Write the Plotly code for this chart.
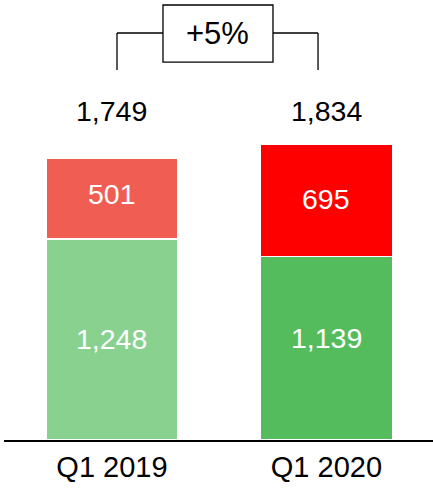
import plotly.graph_objects as go

categories = ["Q1 2019", "Q1 2020"]
green_values = [1248, 1139]
red_values = [501, 695]
totals = [1749, 1834]
green_colors = ["#88D18F", "#55BC5E"]
red_colors = ["#EF5D53", "#FF0000"]
growth_label = "+5%"

FONT = "Arial, Liberation Sans, sans-serif"

fig = go.Figure()
fig.add_trace(go.Bar(
    x=categories, y=green_values,
    marker=dict(color=green_colors, line=dict(color="white", width=1.5)),
    width=0.616, hoverinfo="skip",
))
fig.add_trace(go.Bar(
    x=categories, y=red_values,
    marker=dict(color=red_colors, line=dict(color="white", width=1.5)),
    width=0.616, hoverinfo="skip",
))

# inner value labels (small vertical nudges to match the reference)
green_shift = [0, 10]
red_shift = [4, 1]
for c, g, r, gs, rs in zip(categories, green_values, red_values, green_shift, red_shift):
    fig.add_annotation(x=c, y=g / 2, text=f"{g:,}", showarrow=False, yshift=gs,
                       font=dict(size=28.5, color="white", family=FONT), yanchor="middle")
    fig.add_annotation(x=c, y=g + r / 2, text=f"{r:,}", showarrow=False, yshift=rs,
                       font=dict(size=28.5, color="white", family=FONT), yanchor="middle")

for c, t in zip(categories, totals):
    fig.add_annotation(x=c, xref="x", y=0.748, yref="paper", text=f"{t:,}",
                       showarrow=False, font=dict(size=28.5, color="black", family=FONT),
                       yanchor="middle")

# bracket
line = dict(color="black", width=1.3)
xl, xr = 0.2634, 0.732
bl, br = 0.3706, 0.627
ytop, ybot = 0.925, 0.841
fig.add_shape(type="line", xref="paper", yref="paper", x0=xl, x1=xl, y0=ybot, y1=ytop, line=line)
fig.add_shape(type="line", xref="paper", yref="paper", x0=xl, x1=bl, y0=ytop, y1=ytop, line=line)
fig.add_shape(type="line", xref="paper", yref="paper", x0=xr, x1=xr, y0=ybot, y1=ytop, line=line)
fig.add_shape(type="line", xref="paper", yref="paper", x0=br, x1=xr, y0=ytop, y1=ytop, line=line)
fig.add_shape(type="rect", xref="paper", yref="paper", x0=bl, x1=br, y0=0.859, y1=0.9886,
              line=line, fillcolor="white")
fig.add_annotation(x=(bl + br) / 2, xref="paper", y=0.924, yref="paper", text=growth_label,
                   showarrow=False, font=dict(size=31, color="black", family=FONT),
                   yanchor="middle")

fig.update_layout(
    barmode="stack",
    width=433, height=488,
    margin=dict(l=4, r=0, t=0, b=48),
    paper_bgcolor="white", plot_bgcolor="white",
    showlegend=False,
    font=dict(family=FONT, color="black"),
    xaxis=dict(range=[-0.5035, 1.497], showline=True, linecolor="black", linewidth=1.5,
               showgrid=False, zeroline=False, ticks="",
               tickfont=dict(size=29, color="black", family=FONT)),
    yaxis=dict(range=[0, 2729], visible=False, showgrid=False, zeroline=False),
)

fig.write_html("out.html", config={"displayModeBar": False},
               post_script="document.body.style.margin='0';document.body.style.overflow='hidden';")
